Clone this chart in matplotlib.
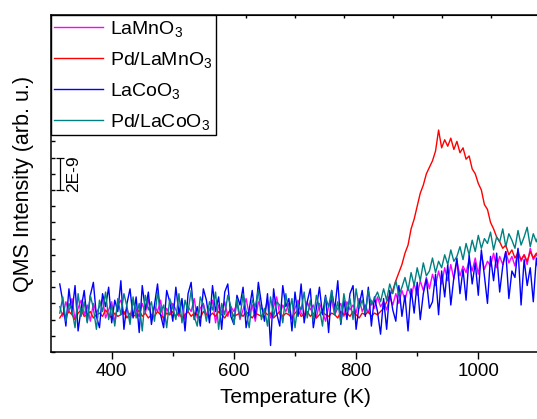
"""
Spectres QMS en fonction de la temperature pour les quatre perovskites.
Valeurs lues sur la figure (unites : 1E-9, echelle arbitraire).
"""

import numpy as np
import matplotlib
matplotlib.use("Agg")
import matplotlib.pyplot as plt

plt.rcParams["font.family"] = ["Liberation Sans", "DejaVu Sans"]
plt.rcParams["mathtext.default"] = "regular"

# --- donnees ---
temperature = np.arange(315, 1101, 5)  # K, pas de 5 K

labels = ["LaMnO$_3$", "Pd/LaMnO$_3$", "LaCoO$_3$", "Pd/LaCoO$_3$"]
colors = ["#ff00ff", "#ff0000", "#0000ff", "#008080"]

la_mn = [
    2.8, 2.2, 3.1, 2.5, 3.3, 2.0, 2.7, 3.2, 2.3, 2.9,
    1.9, 3.0, 2.4, 2.8, 3.3, 2.1, 2.6, 3.1, 1.8, 2.9,
    3.2, 2.3, 2.7, 2.0, 3.1, 2.6, 2.2, 3.0, 2.4, 3.3,
    2.1, 2.8, 2.5, 3.2, 1.9, 2.7, 2.3, 3.0, 2.6, 2.2,
    3.1, 2.0, 2.8, 2.5, 3.3, 2.1, 2.7, 3.0, 2.3, 2.6,
    3.2, 1.8, 2.9, 2.4, 3.1, 2.2, 2.8, 2.5, 3.0, 2.0,
    2.6, 3.3, 2.3, 2.9, 1.9, 3.1, 2.7, 2.4, 3.2, 2.1,
    2.8, 3.4, 2.3, 2.9, 2.5, 3.0, 2.0, 2.7, 3.2, 2.4,
    2.2, 3.1, 2.6, 2.9, 2.1, 3.0, 2.5, 1.9, 2.8, 3.2,
    2.3, 2.7, 3.0, 2.2, 3.1, 2.6, 2.9, 2.4, 3.3, 2.5,
    2.9, 2.4, 3.2, 2.7, 3.4, 2.8,
    3.1, 2.6, 3.4, 2.9, 3.6, 3.0, 3.8, 3.2, 4.0, 3.4,
    4.2, 3.5, 4.4, 3.8, 4.6, 3.9, 4.8, 4.1, 5.0, 4.2,
    5.2, 4.4, 5.4, 4.5, 5.6, 4.7, 5.3, 4.9, 5.7, 5.0,
    5.8, 4.8, 6.0, 5.1, 5.6, 5.3, 6.1, 5.2, 5.9, 5.4,
    6.2, 5.5, 5.9, 5.3, 6.3, 5.6, 6.0, 5.4, 6.4, 5.7,
    6.0, 5.8,
]

pd_la_mn = [
    2.1, 2.4, 2.2, 2.5, 2.3, 2.0, 2.4, 2.6, 2.2, 2.3,
    2.5, 2.1, 2.3, 2.4, 2.2, 2.6, 2.3, 2.1, 2.4, 2.2,
    2.3, 2.5, 2.1, 2.4, 2.2, 2.3, 2.6, 2.2, 2.4, 2.1,
    2.3, 2.2, 2.5, 2.3, 2.1, 2.4, 2.3, 2.5, 2.2, 2.4,
    2.1, 2.3, 2.5, 2.2, 2.4, 2.3, 2.1, 2.5, 2.3, 2.2,
    2.4, 2.2, 2.5, 2.3, 2.1, 2.4, 2.6, 2.2, 2.3, 2.4,
    2.2, 2.5, 2.3, 2.1, 2.4, 2.3, 2.2, 2.5, 2.3, 2.4,
    2.1, 2.3, 2.5, 2.2, 2.4, 2.3, 2.1, 2.4, 2.6, 2.2,
    2.3, 2.5, 2.2, 2.4, 2.1, 2.3, 2.5, 2.3, 2.2, 2.4,
    2.3, 2.1, 2.5, 2.3, 2.4, 2.2, 2.5, 2.3, 2.1, 2.4,
    2.3, 2.5, 2.2, 2.4, 2.3, 2.5,
    2.7, 3.1, 3.5, 3.8, 4.4, 4.9, 5.4, 6.1, 6.6, 7.6,
    8.2, 9.0, 9.8, 10.3, 11.0, 11.4, 11.8, 12.4, 13.7, 12.6,
    13.1, 12.7, 13.2, 12.5, 13.0, 12.3, 12.6, 11.9, 12.1, 11.3,
    11.0, 10.4, 10.0, 9.1, 8.8, 8.0, 7.6, 7.1, 6.8, 6.4,
    6.6, 6.0, 6.3, 5.8, 6.1, 5.7, 6.0, 5.6, 6.2, 5.8,
    6.1, 5.9,
]

la_co = [
    4.2, 3.1, 1.6, 3.9, 2.4, 4.1, 1.3, 2.7, 3.8, 1.9,
    3.5, 4.3, 2.2, 1.5, 3.6, 2.8, 4.0, 1.8, 3.2, 2.5,
    4.4, 1.4, 3.0, 3.9, 2.1, 3.4, 1.2, 4.1, 2.6, 3.7,
    1.7, 2.9, 4.2, 2.3, 1.5, 3.8, 3.1, 1.9, 4.0, 2.4,
    3.3, 1.3, 3.6, 4.3, 2.0, 2.8, 1.6, 3.9, 3.2, 1.8,
    4.1, 2.5, 3.4, 1.4, 3.7, 4.2, 2.2, 1.7, 3.5, 2.9,
    4.0, 1.5, 2.6, 3.8, 2.1, 4.3, 3.0, 1.9, 3.6, 0.4,
    3.9, 2.4, 1.6, 4.1, 2.8, 3.3, 1.3, 3.7, 2.2, 4.2,
    1.8, 3.1, 3.9, 1.5, 2.7, 4.0, 2.3, 3.5, 1.2, 3.8,
    2.6, 4.4, 1.7, 3.2, 2.0, 3.6, 4.1, 1.4, 2.9, 3.8,
    2.2, 4.0, 1.6, 3.4, 2.5, 1.1,
    3.3, 1.4, 3.8, 2.6, 1.9, 4.1, 2.2, 3.5, 1.3, 3.9,
    2.4, 4.3, 2.0, 3.6, 4.5, 2.7, 3.1, 4.8, 2.3, 5.0,
    3.4, 5.4, 2.9, 4.6, 5.8, 3.6, 5.1, 3.2, 6.0, 4.2,
    5.5, 3.5, 6.3, 4.7, 3.0, 5.9, 4.4, 6.1, 3.7, 5.3,
    6.2, 3.3, 5.0, 4.6, 6.4, 2.9, 5.7, 4.1, 5.2, 3.1,
    5.8, 4.5,
]

pd_la_co = [
    2.4, 3.4, 1.9, 3.0, 2.6, 1.5, 3.6, 2.2, 3.1, 1.8,
    3.5, 2.7, 1.4, 3.2, 2.5, 3.7, 2.0, 2.9, 1.6, 3.3,
    2.3, 3.6, 2.8, 1.7, 3.4, 2.1, 3.0, 1.3, 3.5, 2.6,
    3.1, 1.9, 3.7, 2.4, 2.9, 1.5, 3.3, 2.7, 2.0, 3.6,
    1.8, 3.2, 2.5, 3.8, 2.2, 1.6, 3.4, 2.9, 1.9, 3.1,
    2.6, 3.7, 1.4, 3.0, 2.3, 3.5, 2.8, 1.7, 3.3, 2.1,
    3.6, 2.5, 1.5, 3.2, 2.8, 3.8, 2.0, 2.7, 1.6, 3.4,
    2.2, 3.1, 2.9, 1.8, 3.6, 2.4, 3.3, 1.5, 3.0, 2.6,
    3.7, 2.1, 3.2, 1.9, 3.5, 2.7, 1.6, 3.4, 2.8, 3.8,
    2.3, 3.1, 1.8, 3.6, 2.5, 3.3, 2.0, 3.9, 2.7, 3.2,
    2.4, 3.8, 2.9, 3.3, 3.7, 3.1,
    3.9, 3.2, 4.2, 3.6, 4.4, 3.5, 4.0, 4.6, 3.8, 4.9,
    4.1, 5.2, 4.4, 5.5, 4.7, 5.0, 5.8, 4.9, 5.6, 5.2,
    6.0, 5.4, 6.3, 5.6, 5.9, 6.5, 5.7, 6.7, 6.0, 6.9,
    6.2, 7.2, 6.4, 7.0, 6.7, 7.4, 6.3, 7.1, 6.8, 7.6,
    6.5, 7.3, 6.9, 6.4, 7.5, 6.6, 7.1, 7.7, 6.5, 7.3,
    6.8, 7.4,
]

series = [la_mn, pd_la_mn, la_co, pd_la_co]

# barre d'echelle : 2E-9
scale_T = 314.6
scale_lo, scale_hi = 10.0, 12.0

# --- figure ---
fig = plt.figure(figsize=(5.37, 4.19), dpi=100)
ax = fig.add_axes([50.6 / 537, 67 / 419, 488.8 / 537, 337 / 419])

for y, c, lab in zip(series, colors, labels):
    ax.plot(temperature, y, color=c, lw=1.0, label=lab)

ax.set_xlim(300, 1100)
ax.set_ylim(0, 20.8)

ax.set_xticks([400, 600, 800, 1000])
ax.set_xticks([500, 700, 900], minor=True)
ax.tick_params(axis="x", which="major", direction="out", length=5, width=1,
               labelsize=13.5, pad=3)
ax.tick_params(axis="x", which="minor", direction="out", length=3, width=1)

ax.set_yticks(np.arange(0, 21, 1))
ax.tick_params(axis="y", direction="in", length=3, width=1, labelleft=False)

# petits traits sur l'axe du haut
top = ax.secondary_xaxis("top")
top.set_xticks(np.arange(300, 1101, 80))
top.tick_params(direction="in", length=2, width=1, labeltop=False)

for s in ax.spines.values():
    s.set_linewidth(1.1)

ax.set_xlabel("Temperature (K)", fontsize=15, labelpad=6)
ax.set_ylabel("QMS Intensity (arb. u.)", fontsize=15.5, labelpad=12)

# barre d'echelle
ax.errorbar([scale_T], [(scale_lo + scale_hi) / 2], yerr=[(scale_hi - scale_lo) / 2],
            color="black", lw=0.9, capsize=3, capthick=0.9)
ax.text(scale_T + 10, (scale_lo + scale_hi) / 2, "2E-9", rotation=90,
        ha="left", va="center", fontsize=12.5)

leg = ax.legend(loc="upper left", borderaxespad=0, fancybox=False,
                edgecolor="black", framealpha=1, fontsize=14,
                handlelength=2.5, handletextpad=0.35, labelspacing=0.56,
                borderpad=0.2)
leg.get_frame().set_linewidth(1.0)

fig.savefig("out.png", dpi=100)
